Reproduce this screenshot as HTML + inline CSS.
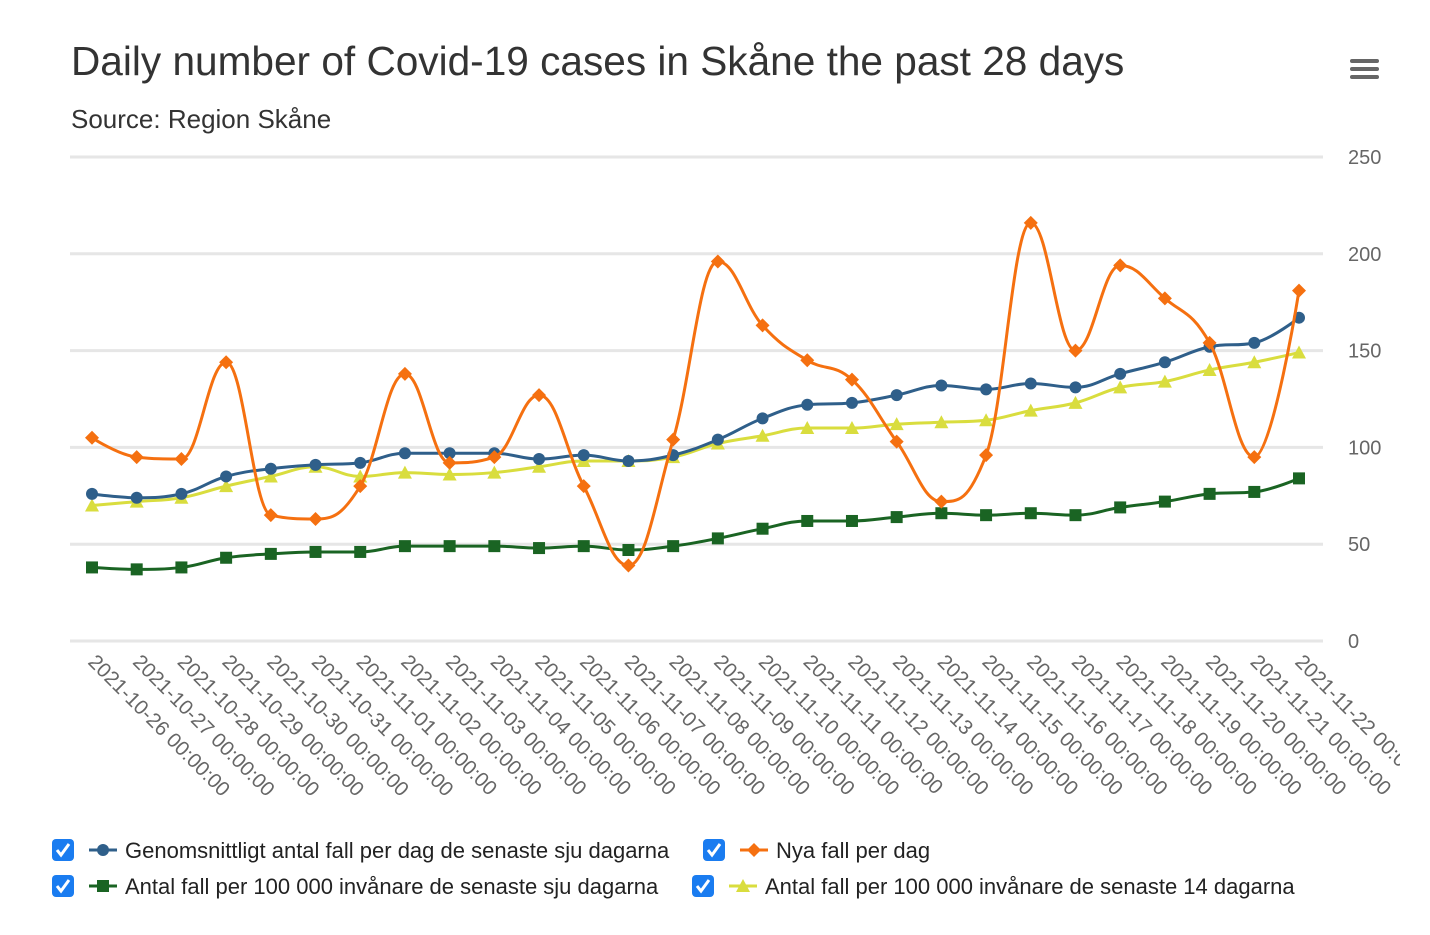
<!DOCTYPE html>
<html><head><meta charset="utf-8"><style>
body{margin:0;background:#fff;width:1430px;height:930px;overflow:hidden;font-family:"Liberation Sans",sans-serif}
</style></head><body>
<svg width="1430" height="930" font-family="Liberation Sans, sans-serif">
<defs><clipPath id="clx"><rect x="0" y="640" width="1400" height="200"/></clipPath></defs>
<text x="71" y="75" font-size="40.6" fill="#333">Daily number of Covid-19 cases in Skåne the past 28 days</text>
<text x="71" y="128" font-size="26" fill="#333">Source: Region Skåne</text>
<g fill="#666"><rect x="1350" y="59" width="29" height="4" rx="2"/><rect x="1350" y="67" width="29" height="4" rx="2"/><rect x="1350" y="75" width="29" height="4" rx="2"/></g>
<g id="grid"></g><g id="xl" clip-path="url(#clx)"></g><g id="series"></g>
<g id="legend" font-size="22" fill="#222"></g>
</svg>
<script>
const categories=["2021-10-26","2021-10-27","2021-10-28","2021-10-29","2021-10-30","2021-10-31","2021-11-01","2021-11-02","2021-11-03","2021-11-04","2021-11-05","2021-11-06","2021-11-07","2021-11-08","2021-11-09","2021-11-10","2021-11-11","2021-11-12","2021-11-13","2021-11-14","2021-11-15","2021-11-16","2021-11-17","2021-11-18","2021-11-19","2021-11-20","2021-11-21","2021-11-22"];
const avg7=[76,74,76,85,89,91,92,97,97,97,94,96,93,96,104,115,122,123,127,132,130,133,131,138,144,152,154,167];
const newCases=[105,95,94,144,65,63,80,138,92,95,127,80,39,104,196,163,145,135,103,72,96,216,150,194,177,154,95,181];
const per100k7=[38,37,38,43,45,46,46,49,49,49,48,49,47,49,53,58,62,62,64,66,65,66,65,69,72,76,77,84];
const per100k14=[70,72,74,80,85,90,85,87,86,87,90,93,93,95,102,106,110,110,112,113,114,119,123,131,134,140,144,149];
const yTicks=[0,50,100,150,200,250];
const NS="http://www.w3.org/2000/svg";
function mk(t,a,p){const e=document.createElementNS(NS,t);for(const k in a)e.setAttribute(k,a[k]);p.appendChild(e);return e;}
const x0=92,x1=1299,yB=641,yT=157;
const X=i=>x0+i*(x1-x0)/(categories.length-1);
const Y=v=>yB-v*(yB-yT)/250;
const grid=document.getElementById('grid');
yTicks.forEach(t=>{
 const l=mk('line',{x1:70,x2:1323,y1:Y(t),y2:Y(t),stroke:'#e6e6e6','stroke-width':3},grid);
 
 
 const tx=mk('text',{x:1348,y:Y(t)+7,'font-size':20,fill:'#666'},grid);tx.textContent=t;
 
 
});
const xl=document.getElementById('xl');
categories.forEach((c,i)=>{
 const tx=mk('text',{transform:`translate(${X(i)-5},${663}) rotate(45)`,'font-size':20.5,fill:'#666'},xl);
 tx.textContent=c+' 00:00:00';
 
 
});
function spline(vals){
 const p=vals.map((v,i)=>[X(i),Y(v)]);const n=p.length,sm=1.5,den=2.5;
 const L=[],R=[];
 for(let i=0;i<n;i++){
  const [x,y]=p[i];
  if(i===0||i===n-1){L[i]=[x,y];R[i]=[x,y];continue;}
  const [lx,ly]=p[i-1],[nx,ny]=p[i+1];
  let lcx=(sm*x+lx)/den,lcy=(sm*y+ly)/den,rcx=(sm*x+nx)/den,rcy=(sm*y+ny)/den;
  if(rcx!==lcx){const c=((rcy-lcy)*(rcx-x))/(rcx-lcx)+y-rcy;lcy+=c;rcy+=c;}
  if(lcy>ly&&lcy>y){lcy=Math.max(ly,y);rcy=2*y-lcy;}else if(lcy<ly&&lcy<y){lcy=Math.min(ly,y);rcy=2*y-lcy;}
  if(rcy>ny&&rcy>y){rcy=Math.max(ny,y);lcy=2*y-rcy;}else if(rcy<ny&&rcy<y){rcy=Math.min(ny,y);lcy=2*y-rcy;}
  L[i]=[lcx,lcy];R[i]=[rcx,rcy];
 }
 let d=`M${p[0][0]},${p[0][1]}`;
 for(let i=1;i<n;i++)d+=` C${R[i-1][0]},${R[i-1][1]} ${L[i][0]},${L[i][1]} ${p[i][0]},${p[i][1]}`;
 return d;}
function marker(g,type,x,y,col){
 if(type==='circle')return mk('circle',{cx:x,cy:y,r:6,fill:col},g);
 if(type==='square')return mk('rect',{x:x-6,y:y-6,width:12,height:12,fill:col},g);
 if(type==='diamond')return mk('path',{d:`M${x},${y-7}L${x+7},${y}L${x},${y+7}L${x-7},${y}Z`,fill:col},g);
 return mk('path',{d:`M${x},${y-7}L${x+7},${y+6}L${x-7},${y+6}Z`,fill:col},g);
}
const S=[
 {name:'per100k14',vals:per100k14,col:'#d9dd3e',m:'triangle'},
 {name:'per100k7',vals:per100k7,col:'#1a6423',m:'square'},
 {name:'avg7',vals:avg7,col:'#2f5f8a',m:'circle'},
 {name:'new-cases',vals:newCases,col:'#f57010',m:'diamond'}];
const sg=document.getElementById('series');
S.forEach(s=>{
 const g=mk('g',{},sg);
 
 
 mk('path',{d:spline(s.vals),fill:'none',stroke:s.col,'stroke-width':3},g);
 s.vals.forEach((v,i)=>{const m=marker(g,s.m,X(i),Y(v),s.col);
  
  });
});
const leg=document.getElementById('legend');
const items=[[52,850,'#2f5f8a','circle','Genomsnittligt antal fall per dag de senaste sju dagarna'],
 [703,850,'#f57010','diamond','Nya fall per dag'],
 [52,886,'#1a6423','square','Antal fall per 100 000 invånare de senaste sju dagarna'],
 [692,886,'#d9dd3e','triangle','Antal fall per 100 000 invånare de senaste 14 dagarna']];
items.forEach(it=>{
 const g=mk('g',{},leg);
 
 
 const [x,y,c,m,t]=it;
 mk('rect',{x:x,y:y-11,width:22,height:22,rx:4,fill:'#1a7cf0'},g);
 mk('path',{d:`M${x+5},${y}L${x+9},${y+5}L${x+17},${y-6}`,fill:'none',stroke:'#fff','stroke-width':3},g);
 mk('line',{x1:x+37,x2:x+65,y1:y,y2:y,stroke:c,'stroke-width':3},g);
 marker(g,m,x+51,y,c);
 const tx=mk('text',{x:x+73,y:y+8},g);tx.textContent=t;
});
</script>
</body></html>
